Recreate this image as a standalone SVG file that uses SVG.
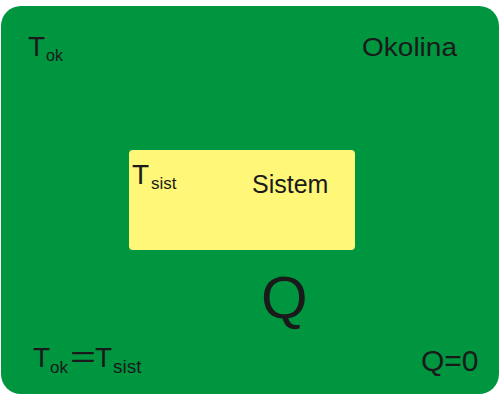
<svg xmlns="http://www.w3.org/2000/svg" width="500" height="400" viewBox="0 0 500 400">
<style>
text { font-family: "Liberation Sans", Arial, sans-serif; fill: #1a1a1a; }
.big { font-size: 28px; }
.sub { font-size: 16px; }
</style>
<rect x="0" y="0" width="500" height="400" fill="#ffffff"/>
<g id="okolina">
  <rect x="1" y="6" width="498" height="388" rx="20" ry="20" fill="#009640"/>
  <text x="28" y="56" class="big">T</text>
  <text x="46" y="61" class="sub">ok</text>
  <text x="362" y="56" font-size="25" textLength="95" lengthAdjust="spacingAndGlyphs">Okolina</text>
</g>
<g id="sistem">
  <rect x="129" y="150" width="226" height="100" rx="4" ry="4" fill="#fff778"/>
  <text x="132" y="184" class="big">T</text>
  <text x="151" y="189" font-size="17">sist</text>
  <text x="252" y="193" font-size="25">Sistem</text>
</g>
<g id="q">
  <text x="261" y="318" font-size="60">Q</text>
</g>
<g id="jednakost">
  <text x="33" y="367" class="big">T</text>
  <text x="50" y="373" font-size="17">ok</text>
  <text x="70" y="367" font-size="30" textLength="26" lengthAdjust="spacingAndGlyphs">=</text>
  <text x="95" y="367" class="big">T</text>
  <text x="113" y="373" font-size="19">sist</text>
</g>
<g id="q0">
  <text x="421" y="371" font-size="30">Q=0</text>
</g>
</svg>
